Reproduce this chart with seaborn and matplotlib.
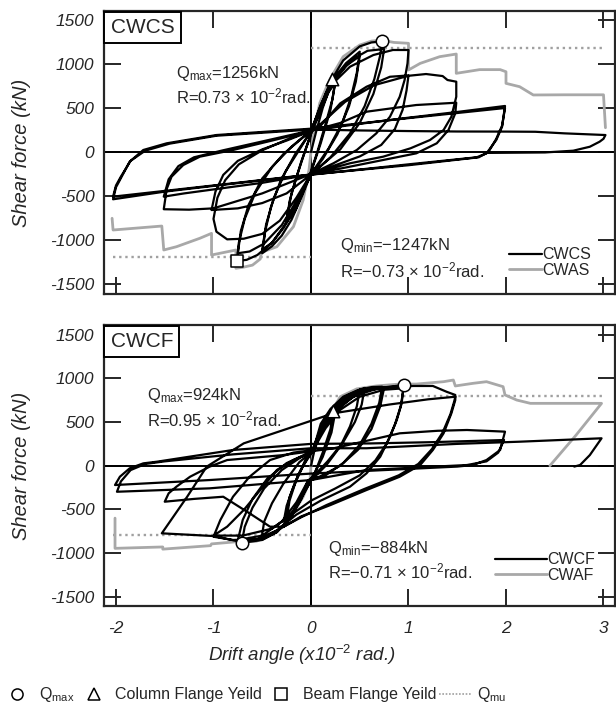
import matplotlib
matplotlib.use("Agg")
import matplotlib.pyplot as plt
import seaborn as sns
import pandas as pd
from matplotlib.lines import Line2D

# ---------------- data ----------------
x_ticks = [-2, -1, 0, 1, 2, 3]
y_ticks = [-1500, -1000, -500, 0, 500, 1000, 1500]

# CWCS hysteresis (drift angle x1e-2 rad, shear kN), in loading order
cwcs_path = [
    (0, 0),
    (0.05, 220), (0.12, 500), (0.19, 720), (0.25, 820),
    (0.22, 600), (0.15, 320), (0.07, 20), (0.0, -220),
    (-0.08, -450), (-0.16, -660), (-0.25, -800),
    (-0.22, -560), (-0.15, -290), (-0.07, -20), (0.0, 210),
    (0.1, 470), (0.18, 680), (0.25, 790),
    (0.2, 480), (0.1, 100), (0.0, -230),
    (-0.1, -480), (-0.19, -690), (-0.25, -770),
    (-0.2, -470), (-0.1, -110), (0.0, 200),
    (0.07, 420), (0.15, 660), (0.25, 860), (0.36, 1010), (0.5, 1140),
    (0.47, 900), (0.41, 620), (0.32, 330), (0.18, 40), (0.0, -250),
    (-0.1, -520), (-0.2, -770), (-0.3, -950), (-0.4, -1070), (-0.5, -1150),
    (-0.47, -900), (-0.41, -620), (-0.31, -320), (-0.16, -20), (0.0, 230),
    (0.1, 540), (0.22, 800), (0.36, 980), (0.5, 1090),
    (0.46, 800), (0.39, 520), (0.27, 200), (0.12, -80), (0.0, -255),
    (-0.14, -570), (-0.28, -860), (-0.4, -1030), (-0.5, -1110),
    (-0.46, -820), (-0.38, -520), (-0.26, -220), (-0.1, 60), (0.0, 240),
    (0.09, 500), (0.2, 800), (0.33, 1040), (0.5, 1200), (0.62, 1245), (0.73, 1256),
    (0.71, 1100), (0.65, 830), (0.55, 520), (0.4, 210), (0.2, -60), (0.0, -255),
    (-0.12, -520), (-0.25, -800), (-0.4, -1030), (-0.55, -1170), (-0.66, -1225), (-0.76, -1238),
    (-0.74, -1030), (-0.68, -760), (-0.57, -460), (-0.4, -170), (-0.2, 60), (0.0, 245),
    (0.12, 560), (0.26, 850), (0.42, 1050), (0.58, 1150), (0.75, 1170),
    (0.72, 960), (0.64, 660), (0.5, 330), (0.3, 30), (0.0, -255),
    (-0.15, -560), (-0.3, -830), (-0.48, -1040), (-0.63, -1130), (-0.75, -1150),
    (-0.72, -900), (-0.64, -600), (-0.5, -300), (-0.28, -20), (0.0, 245),
    (0.09, 440), (0.19, 742), (0.4, 969), (0.64, 1102), (0.84, 1159), (1.0, 1159),
    (0.99, 1007), (0.96, 818), (0.91, 628), (0.81, 401), (0.67, 212), (0.47, 23), (0.23, -128), (0.0, -250),
    (-0.15, -520), (-0.32, -780), (-0.5, -930), (-0.69, -985), (-0.86, -992), (-0.97, -905), (-1.0, -760),
    (-0.96, -520), (-0.88, -320), (-0.74, -140), (-0.5, 20), (-0.25, 140), (0.0, 245),
    (0.09, 288), (0.3, 553), (0.57, 742), (0.81, 855), (1.0, 870),
    (0.98, 700), (0.94, 480), (0.86, 260), (0.72, 80), (0.5, -50), (0.25, -150), (0.0, -255),
    (-0.25, -470), (-0.5, -580), (-0.75, -640), (-1.02, -659),
    (-0.98, -450), (-0.9, -260), (-0.75, -100), (-0.5, 30), (-0.25, 130), (0.0, 240),
    (0.1, 320), (0.35, 570), (0.65, 760), (1.0, 866), (1.18, 886), (1.35, 863), (1.40, 818), (1.49, 799),
    (1.49, 628), (1.44, 401), (1.36, 250), (1.22, 136), (1.02, 42), (0.74, -53), (0.4, -128), (0.0, -250),
    (-0.5, -470), (-1.0, -640), (-1.25, -655), (-1.51, -650),
    (-1.48, -420), (-1.43, -280), (-1.31, -148), (-1.14, -53), (-0.8, 23), (-0.4, 130), (0.0, 240),
    (0.3, 330), (0.57, 458), (1.08, 534), (1.49, 560),
    (1.48, 440), (1.41, 250), (1.29, 99), (1.08, -15), (0.57, -128), (0.0, -255),
    (-0.5, -350), (-1.0, -425), (-1.3, -470), (-1.51, -507),
    (-1.46, -310), (-1.36, -160), (-1.2, -60), (-0.9, 20), (-0.5, 120), (0.0, 245),
    (0.5, 320), (1.0, 390), (1.5, 455), (1.99, 523),
    (1.96, 288), (1.90, 136), (1.80, -15), (1.70, -60), (1.0, -140), (0.0, -258),
    (-1.0, -385), (-1.5, -450), (-2.03, -537),
    (-2.0, -400), (-1.96, -318), (-1.86, -110), (-1.72, 23), (-1.48, 99), (-0.97, 193), (0.0, 265),
    (1.0, 385), (1.99, 500),
    (1.96, 300), (1.9, 150), (1.82, 0), (1.72, -60), (1.0, -150), (0.0, -255),
    (-1.0, -380), (-2.03, -507),
    (-2.0, -380), (-1.95, -280), (-1.85, -100), (-1.7, 15), (-1.45, 95), (-0.97, 185), (0.0, 255),
    (0.5, 245), (1.0, 238), (1.5, 233), (2.0, 232), (2.3, 230), (2.6, 212), (3.02, 193),
    (3.0, 150), (2.96, 117), (2.86, 60), (2.69, 15), (2.4, -5), (1.8, -10),
]

# CWAS envelope (gray)
cwas_path = [
    (-2.04, -753), (-2.03, -886), (-1.53, -841), (-1.51, -1113), (-1.38, -1076), (-1.14, -980),
    (-1.02, -924), (-1.02, -1170), (-0.77, -1113), (-0.77, -1321), (-0.7, -1310), (-0.6, -1285),
    (-0.52, -1215), (-0.51, -1140), (-0.35, -1076), (-0.18, -848), (-0.08, -545), (-0.02, -200),
    (0, 0), (0.03, 250), (0.09, 557), (0.19, 818), (0.33, 1083), (0.5, 1215), (0.62, 1260),
    (0.72, 1272), (0.85, 1245), (1.0, 1235), (1.0, 932), (1.12, 1007), (1.32, 1083), (1.49, 1113),
    (1.49, 894), (1.73, 936), (1.94, 936), (2.0, 912), (2.0, 780), (2.14, 742), (2.28, 648),
    (2.6, 650), (3.0, 650), (3.02, 276),
]

# CWCF hysteresis
cwcf_path = [
    (0, 0),
    (0.05, 250), (0.12, 470), (0.23, 640),
    (0.2, 420), (0.12, 150), (0.04, -80), (-0.03, -200),
    (-0.1, -380), (-0.18, -530), (-0.25, -610),
    (-0.22, -400), (-0.15, -160), (-0.06, 60), (0.02, 200),
    (0.1, 420), (0.18, 560), (0.25, 620),
    (0.21, 380), (0.12, 100), (0.0, -170),
    (-0.12, -420), (-0.2, -540), (-0.26, -590),
    (-0.22, -360), (-0.13, -100), (-0.03, 100), (0.02, 170),
    (0.1, 480), (0.2, 650), (0.33, 790), (0.47, 860), (0.55, 890),
    (0.52, 700), (0.45, 500), (0.33, 270), (0.17, 50), (0.02, -126), (-0.03, -170),
    (-0.1, -380), (-0.2, -580), (-0.35, -760), (-0.51, -850),
    (-0.48, -640), (-0.4, -430), (-0.28, -200), (-0.12, 40), (0.02, 170),
    (0.12, 440), (0.25, 650), (0.38, 790), (0.5, 870),
    (0.47, 680), (0.4, 450), (0.3, 220), (0.16, 10), (0.0, -170),
    (-0.12, -400), (-0.2, -560), (-0.28, -641),
    (-0.25, -460), (-0.18, -240), (-0.08, 0), (0.02, 170),
    (0.12, 470), (0.23, 650), (0.35, 790), (0.5, 870), (0.62, 900), (0.73, 905),
    (0.7, 720), (0.62, 480), (0.5, 240), (0.33, 30), (0.15, -110), (-0.03, -175),
    (-0.1, -360), (-0.2, -580), (-0.35, -760), (-0.5, -850), (-0.71, -884),
    (-0.68, -700), (-0.6, -480), (-0.48, -260), (-0.3, -50), (-0.1, 100), (0.02, 170),
    (0.15, 500), (0.3, 720), (0.5, 850), (0.75, 890),
    (0.71, 680), (0.62, 420), (0.48, 180), (0.3, 0), (0.1, -120), (-0.03, -170),
    (-0.15, -420), (-0.3, -640), (-0.5, -800), (-0.75, -850),
    (-0.7, -620), (-0.6, -380), (-0.45, -150), (-0.25, 30), (0.02, 170),
    (0.1, 420), (0.25, 640), (0.45, 800), (0.7, 890), (0.95, 924),
    (0.93, 714), (0.88, 523), (0.81, 332), (0.71, 103), (0.57, -87), (0.4, -240), (0.1, -400),
    (-0.15, -560), (-0.35, -740), (-0.55, -840), (-0.8, -850), (-1.0, -813),
    (-0.93, -622), (-0.8, -355), (-0.63, -126), (-0.42, 65), (-0.18, 150), (0.02, 180),
    (0.15, 430), (0.3, 640), (0.5, 790), (0.75, 870), (0.95, 886),
    (0.92, 680), (0.86, 470), (0.78, 260), (0.66, 60), (0.5, -110), (0.25, -260), (0.0, -400),
    (-0.2, -560), (-0.4, -720), (-0.7, -800), (-1.0, -800),
    (-0.86, -698), (-0.69, -507), (-0.52, -278), (-0.35, -49), (-0.18, 65), (0.02, 160),
    (0.12, 420), (0.25, 620), (0.42, 780), (0.6, 870), (0.8, 900), (1.05, 913), (1.25, 913),
    (1.39, 847), (1.48, 810),
    (1.48, 752), (1.44, 600), (1.36, 371), (1.25, 180), (1.12, 8), (0.91, -126), (0.57, -278),
    (0.2, -450), (-0.1, -580), (-0.28, -698), (-0.5, -840), (-0.73, -870), (-1.0, -805), (-1.53, -774),
    (-1.27, -355), (-1.07, -11), (-0.69, 256), (-0.28, 409), (0.23, 600), (0.8, 700), (1.2, 760), (1.48, 790),
    (1.47, 740), (1.43, 590), (1.35, 380), (1.24, 190), (1.1, 20), (0.9, -110), (0.55, -265),
    (0.16, -450), (-0.1, -590), (-0.28, -698), (-0.42, -698), (-0.63, -545), (-0.9, -355),
    (-1.2, -380), (-1.5, -412),
    (-1.46, -316), (-1.38, -240), (-1.24, -126), (-1.04, -11), (-0.86, 65), (-0.3, 120),
    (0.23, 199), (0.91, 371), (1.3, 400), (1.6, 409), (1.99, 390),
    (1.94, 180), (1.80, 65), (1.66, 8), (1.5, -10), (0.57, -60), (0.0, -90), (-1.04, -164), (-2.01, -221),
    (-1.96, -126), (-1.86, -30), (-1.72, 27), (-1.58, 46), (-0.8, 180), (0.0, 250),
    (0.6, 255), (1.25, 270), (1.98, 294),
    (1.92, 150), (1.8, 50), (1.6, 8), (0.57, -49), (0.0, -164), (-1.04, -259), (-1.99, -298),
    (-1.95, -180), (-1.85, -50), (-1.7, 20), (-1.5, 50), (-0.8, 130), (0.0, 200),
    (0.57, 200), (1.5, 250), (2.14, 275), (2.98, 314),
    (2.86, 122), (2.76, 8), (2.7, -10),
]

# CWAF envelope (gray)
cwaf_path = [
    (-2.01, -600), (-2.01, -946), (-1.52, -930), (-1.52, -955), (-1.03, -915), (-1.02, -895),
    (-0.76, -870), (-0.56, -865), (-0.35, -756), (-0.2, -584), (-0.08, -355), (-0.01, -164),
    (0, 0), (0.02, 142), (0.16, 523), (0.3, 790), (0.47, 880), (0.67, 913), (0.91, 935),
    (1.08, 935), (1.36, 962), (1.46, 981), (1.48, 913), (1.66, 943), (1.8, 962), (1.97, 905),
    (1.99, 810), (2.11, 752), (2.25, 714), (2.98, 714), (2.72, 352), (2.45, 0),
]

# event markers
cwcs_qmax_pts = [(0.73, 1256)]
cwcs_col_pts = [(0.22, 825)]
cwcs_beam_pts = [(-0.76, -1240)]
cwcf_qmax_pts = [(0.95, 924), (-0.71, -884)]
cwcf_col_pts = [(0.23, 630)]
cwcf_beam_pts = []

# Qmu levels and extents
cwcs_qmu_pos, cwcs_qmu_neg = 1180, -1190
cwcf_qmu_pos, cwcf_qmu_neg = 798, -793
qmu_pos_span = [0.0, 3.0]
qmu_neg_span = [-2.03, 0.0]

panel_names = ["CWCS", "CWCF"]
series_names = [("CWCS", "CWAS"), ("CWCF", "CWAF")]
annot_top = ["Q$_{\\rm max}$=1256kN", "Q$_{\\rm max}$=924kN"]
annot_top_r = ["R=0.73 × 10$^{-2}$rad.", "R=0.95 × 10$^{-2}$rad."]
annot_bot = ["Q$_{\\rm min}$=\u22121247kN", "Q$_{\\rm min}$=\u2212884kN"]
annot_bot_r = ["R=\u22120.73 × 10$^{-2}$rad.", "R=\u22120.71 × 10$^{-2}$rad."]

# ---------------- style ----------------
sns.set_style("ticks")
plt.rcParams["font.family"] = ["Liberation Sans", "DejaVu Sans"]
plt.rcParams["mathtext.fontset"] = "custom"
plt.rcParams["mathtext.rm"] = "Liberation Sans"
plt.rcParams["mathtext.it"] = "Liberation Sans:italic"
plt.rcParams["mathtext.bf"] = "Liberation Sans:bold"
plt.rcParams["axes.unicode_minus"] = False

GRAY = "#a8a8a8"
DOT = "#a0a0a0"

W, H = 616, 711
fig = plt.figure(figsize=(W / 100, H / 100), dpi=100)

def fx(px):
    return px / W

def fy(py):
    return 1 - py / H

ax_top = fig.add_axes([fx(104), fy(294), fx(615) - fx(104), fy(11) - fy(294)])
ax_bot = fig.add_axes([fx(104), fy(606), fx(615) - fx(104), fy(325) - fy(606)])

ylims = [(-1613, 1602), (-1606, 1611)]
paths = [(cwcs_path, cwas_path), (cwcf_path, cwaf_path)]
qmax_pts = [cwcs_qmax_pts, cwcf_qmax_pts]
col_pts = [cwcs_col_pts, cwcf_col_pts]
beam_pts = [cwcs_beam_pts, cwcf_beam_pts]
qmus = [(cwcs_qmu_pos, cwcs_qmu_neg), (cwcf_qmu_pos, cwcf_qmu_neg)]
# text anchor positions in data coords (x, baseline y)
annot_pos = [
    [(-1.385, 841), (-1.385, 557), (0.297, -1113), (0.297, -1420)],
    [(-1.68, 752), (-1.68, 455), (0.174, -1000), (0.174, -1286)],
]
legend_anchor = [(0.7926, 0.111, 2.06), (0.765, 0.137, 3.25)]

for i, ax in enumerate([ax_top, ax_bot]):
    black, gray = paths[i]
    dfb = pd.DataFrame(black, columns=["x", "y"])
    dfg = pd.DataFrame(gray, columns=["x", "y"])
    ax.axhline(0, color="black", lw=1.4, zorder=1)
    ax.axvline(0, color="black", lw=1.4, zorder=1)
    qp, qn = qmus[i]
    sns.lineplot(x=qmu_pos_span, y=[qp, qp], ax=ax, color=DOT, lw=1.7,
                 linestyle=(0, (1, 1.6)), legend=False, zorder=2)
    sns.lineplot(x=qmu_neg_span, y=[qn, qn], ax=ax, color=DOT, lw=1.7,
                 linestyle=(0, (1, 1.6)), legend=False, zorder=2)
    sns.lineplot(data=dfg, x="x", y="y", sort=False, estimator=None, ax=ax,
                 color=GRAY, lw=2.0, legend=False, zorder=3)
    sns.lineplot(data=dfb, x="x", y="y", sort=False, estimator=None, ax=ax,
                 color="black", lw=1.6, legend=False, zorder=4)
    mk_sets = [(qmax_pts[i], "o"), (col_pts[i], "^"), (beam_pts[i], "s")]
    for pts, mk in mk_sets:
        if pts:
            dfm = pd.DataFrame(pts, columns=["x", "y"])
            sns.scatterplot(data=dfm, x="x", y="y", ax=ax, marker=mk, s=80,
                            facecolor="white", edgecolor="black", linewidth=1.1,
                            legend=False, zorder=6)

    ax.set_xlim(-2.123, 3.118)
    ax.set_ylim(*ylims[i])
    ax.set_xticks(x_ticks, labels=[str(v) for v in x_ticks], fontstyle="italic", fontsize=12.5)
    ax.set_yticks(y_ticks, labels=[str(v) for v in y_ticks], fontstyle="italic", fontsize=12.5)
    ax.tick_params(direction="in", length=12.5, width=1.4, top=True, right=True, pad=7)
    if i == 0:
        ax.tick_params(labelbottom=False)
    else:
        ax.tick_params(axis="x", pad=11)
    for sp in ax.spines.values():
        sp.set_linewidth(1.6)
        sp.set_zorder(7)
    ax.set_xlabel("")
    ax.set_ylabel("")

    # panel name box
    ax.annotate(panel_names[i], xy=(0, 1), xycoords="axes fraction",
                xytext=(4.7, -5.0), textcoords="offset points", ha="left", va="top",
                fontsize=15, zorder=20, annotation_clip=False,
                bbox=dict(boxstyle="square,pad=0.3", fc="white", ec="black", lw=1.4))

    texts = [annot_top[i], annot_top_r[i], annot_bot[i], annot_bot_r[i]]
    for (tx, ty), t in zip(annot_pos[i], texts):
        ax.text(tx, ty, t, fontsize=12, ha="left", va="baseline", zorder=8)

    lx, ly, hl = legend_anchor[i]
    handles = [Line2D([], [], color="black", lw=1.6), Line2D([], [], color=GRAY, lw=2.0)]
    leg = ax.legend(handles, list(series_names[i]), loc="center left",
                    bbox_to_anchor=(lx, ly), frameon=False, fontsize=11.5,
                    handlelength=hl, handletextpad=0.05, labelspacing=0.05,
                    borderpad=0, borderaxespad=0)
    leg.set_zorder(9)

# axis labels
for cy in [(11 + 294) / 2, (325 + 606) / 2]:
    fig.text(fx(22), fy(cy), "Shear force (kN)", rotation=90, ha="center", va="center",
             fontsize=14.5, fontstyle="italic")
fig.text(fx(302), fy(655), "Drift angle (x10$^{\\mathit{-2}}$ rad.)", ha="center",
         va="center", fontsize=13.5, fontstyle="italic")

# bottom key
key_handles = [
    Line2D([], [], marker="o", ls="none", mfc="white", mec="black", mew=1.1, ms=8),
    Line2D([], [], marker="^", ls="none", mfc="white", mec="black", mew=1.1, ms=8),
    Line2D([], [], marker="s", ls="none", mfc="white", mec="black", mew=1.1, ms=8),
    Line2D([], [], color=DOT, lw=1.2, linestyle=(0, (1, 1))),
]
key_labels = ["Q$_{\\rm max}$", "Column Flange Yeild", "Beam Flange Yeild", "Q$_{\\rm mu}$"]
fig.legend(key_handles, key_labels, loc="center left", bbox_to_anchor=(0.002, fy(695)),
           ncol=4, frameon=False, fontsize=11.5, handlelength=2.0, handletextpad=0.35,
           columnspacing=0.2, borderpad=0, borderaxespad=0)

fig.savefig("out.png", dpi=100)
